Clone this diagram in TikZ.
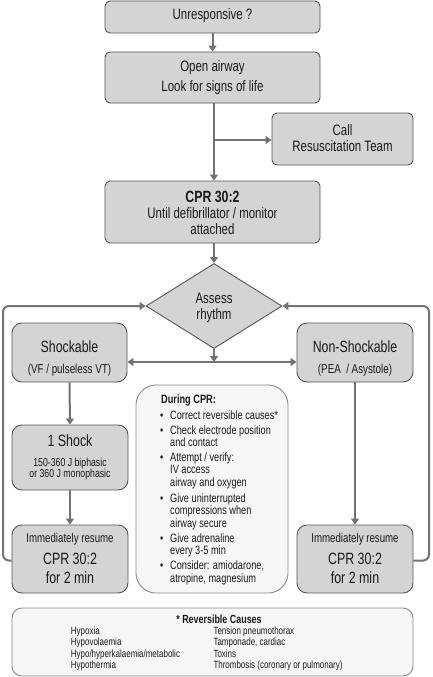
\documentclass[tikz,border=0pt]{standalone}
\usepackage{fontspec}
\setmainfont[FakeStretch=0.76]{Liberation Sans}
\usetikzlibrary{shapes.geometric,arrows.meta}
\definecolor{boxc}{HTML}{D4D4D4}
\definecolor{bordc}{HTML}{555555}
\definecolor{arrc}{HTML}{727272}
\definecolor{lightc}{HTML}{F6F6F6}
\definecolor{lightb}{HTML}{8A8A8A}
\definecolor{txtc}{HTML}{1A1A1A}
\begin{document}
\begin{tikzpicture}[x=1pt,y=-1pt,
  box/.style={draw=bordc,fill=boxc,line width=0.9pt,rounded corners=5pt,inner sep=0pt},
  rbox/.style={box,rounded corners=10pt},
  lbox/.style={draw=lightb,fill=lightc,line width=0.9pt,inner sep=0pt},
  txt/.style={text=txtc,align=center,inner sep=0pt},
  ltxt/.style={text=txtc,align=left,inner sep=0pt,anchor=base west},
  arr/.style={draw=arrc,line width=2pt,-{Triangle[length=6pt,width=8pt]}},
  darr/.style={draw=arrc,line width=2pt,{Triangle[length=6pt,width=8pt]}-{Triangle[length=6pt,width=8pt]}},
  fA/.style={font=\fontsize{15.1}{16}\selectfont}]
\useasboundingbox (0,0) rectangle (432,677);

% boxes
\node[box,minimum width=215,minimum height=32] (unresp) at (212.5,17) {};
\node[txt,fA] (unrespT) at (212.5,15.5) {Unresponsive ?};

\node[box,minimum width=215,minimum height=51] (open) at (212.5,77.5) {};
\node[txt,font=\fontsize{15.1}{19.3}\selectfont] (openT) at (212.5,77.6) {Open airway\\Look for signs of life};

\node[box,minimum width=141,minimum height=52] (call) at (342.5,139) {};
\node[txt,fA] (callT) at (342.5,138.2) {Call\\Resuscitation Team};

\node[box,minimum width=215,minimum height=62] (cpr) at (212.5,212) {};
\node[txt,fA] (cprT) at (212.5,212.9) {{\bfseries\fontsize{16.25}{16}\selectfont CPR 30:2}\\Until defibrillator / monitor\\attached};

\node[draw=bordc,fill=boxc,line width=0.9pt,shape=diamond,minimum width=136,minimum height=85,inner sep=0pt] (diam) at (214,306) {};
\node[txt,fA] (diamT) at (214,307.6) {Assess\\rhythm};

\node[rbox,minimum width=115,minimum height=59] (shock) at (69.5,352.5) {};
\node[txt,font=\fontsize{12.9}{21}\selectfont] (shockT) at (69.5,358.5) {{\fontsize{16.25}{21}\selectfont Shockable}\\(VF / pulseless VT)};

\node[rbox,minimum width=116,minimum height=59] (nons) at (355,352.5) {};
\node[txt,font=\fontsize{12.9}{21}\selectfont] (nonsT) at (355,358.5) {{\fontsize{16.25}{21}\selectfont Non-Shockable}\\(PEA~ / Asystole)};

\node[rbox,minimum width=116,minimum height=65] (shock1) at (70,457.5) {};
\node[txt,font=\fontsize{11.5}{11.7}\selectfont] (shock1T) at (70,457.3) {{\fontsize{16.35}{11.7}\selectfont 1 Shock}\\[8.5pt]150-360 J biphasic\\or 360 J monophasic};

\node[rbox,minimum width=116,minimum height=68] (resL) at (70,559) {};
\node[txt,font=\fontsize{16.35}{19}\selectfont] (resLT) at (70,558.5) {{\fontsize{12.75}{19}\selectfont Immediately resume}\\[2.3pt]CPR 30:2\\for 2 min};

\node[rbox,minimum width=116,minimum height=68] (resR) at (355,559) {};
\node[txt,font=\fontsize{16.35}{19}\selectfont] (resRT) at (355,558.5) {{\fontsize{12.75}{19}\selectfont Immediately resume}\\[2.3pt]CPR 30:2\\for 2 min};

% During CPR box
\node[lbox,rounded corners=20pt,minimum width=152,minimum height=208] (during) at (212,489) {};
\begin{scope}[font=\fontsize{12.1}{12.7}\selectfont]
\node[ltxt] (durT) at (161,403) {\bfseries During CPR:};
\node[ltxt] (b1) at (160,419) {\makebox[10pt][l]{\textbullet}Correct reversible causes*};
\node[ltxt] (b2) at (160,446.7) {\makebox[10pt][l]{\textbullet}Check electrode position\\\hspace*{10pt}and contact};
\node[ltxt] (b3) at (160,486.4) {\makebox[10pt][l]{\textbullet}Attempt / verify:\\\hspace*{10pt}IV access\\\hspace*{10pt}airway and oxygen};
\node[ltxt] (b4) at (160,527.4) {\makebox[10pt][l]{\textbullet}Give uninterrupted\\\hspace*{10pt}compressions when\\\hspace*{10pt}airway secure};
\node[ltxt] (b5) at (160,554.7) {\makebox[10pt][l]{\textbullet}Give adrenaline\\\hspace*{10pt}every 3-5 min};
\node[ltxt] (b6) at (160,582.2) {\makebox[10pt][l]{\textbullet}Consider: amiodarone,\\\hspace*{10pt}atropine, magnesium};
\end{scope}

% Reversible causes box
\node[lbox,rounded corners=10pt,minimum width=401,minimum height=68] (causes) at (212.5,642) {};
\node[txt,anchor=base,font=\bfseries\fontsize{11.75}{12}\selectfont] (causesT) at (219,623) {* Reversible Causes};
\begin{scope}[font=\fontsize{10.5}{11.3}\selectfont]
\node[ltxt] (cl) at (70.7,668.4) {Hypoxia\\Hypovolaemia\\Hypo/hyperkalaemia/metabolic\\Hypothermia};
\node[ltxt] (cr) at (213.3,668.4) {Tension pneumothorax\\Tamponade, cardiac\\Toxins\\Thrombosis (coronary or pulmonary)};
\end{scope}

% connectors
\draw[arr] (unresp.south) -- (open.north);
\coordinate (br) at (214,140);
\draw[arr] (open.south -| br) -- (cpr.north -| br);
\draw[arr] (br) -- (call.west |- br);
\draw[arr] (cpr.south -| diam.north) -- (diam.north);
\coordinate (hj) at (214,362);
\draw[arr] (diam.south) -- (hj);
\draw[darr] (shock.east |- hj) -- (nons.west |- hj);
\draw[arr] (shock.south) -- (shock1.north);
\draw[arr] (shock1.south) -- (resL.north);
\draw[arr] (nons.south) -- (resR.north);
\coordinate (lb) at (3,560.5);
\coordinate (rb) at (429,560.5);
\draw[arr,rounded corners=6pt] (resL.west |- lb) -- (lb) -- (lb |- diam.west) -- (diam.west);
\draw[arr,rounded corners=6pt] (resR.east |- rb) -- (rb) -- (rb |- diam.east) -- (diam.east);
\end{tikzpicture}
\end{document}
